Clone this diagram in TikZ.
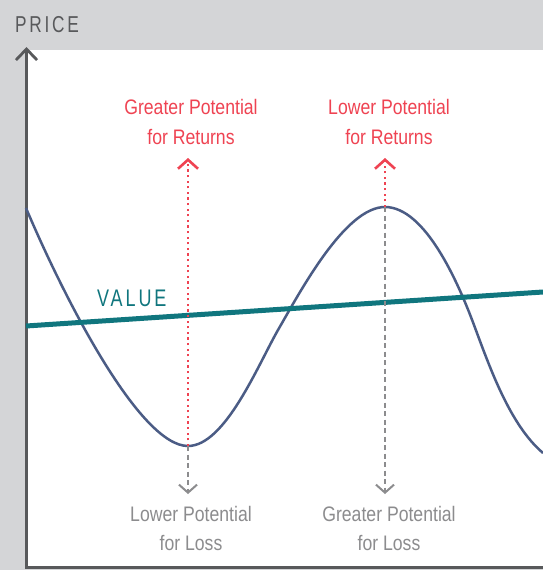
\documentclass[tikz,border=0pt]{standalone}
\usepackage{fontspec}
\setmainfont{Liberation Sans}[FakeStretch=0.84]
\newfontfamily\capsfont{Liberation Sans}[FakeStretch=0.75, LetterSpace=12]
\usetikzlibrary{arrows.meta}
\definecolor{bggray}{HTML}{D4D5D7}
\definecolor{axisgray}{HTML}{58595B}
\definecolor{pricecol}{HTML}{4B5C85}
\definecolor{valuecol}{HTML}{10767E}
\definecolor{redcol}{HTML}{EF4352}
\definecolor{lblgray}{HTML}{8C8C8E}
\tikzset{
  axisline/.style={draw=axisgray, line width=3pt,
    -{Straight Barb[length=11pt,width=21pt,line width=2.8pt]}},
  pricecurve/.style={draw=pricecol, line width=2.5pt},
  valueline/.style={draw=valuecol, line width=5pt},
  reddot/.style={draw=redcol, line width=2.4pt, dash pattern=on 2.2pt off 3.4pt,
    -{Straight Barb[length=9pt,width=20pt,line width=2.6pt]}},
  graydash/.style={draw=lblgray, line width=2pt, dash pattern=on 5pt off 3.5pt,
    -{Straight Barb[length=8pt,width=18pt,line width=2pt]}},
  redlbl/.style={text=redcol, anchor=base, inner sep=0pt, font=\fontsize{21}{25}\selectfont},
  graylbl/.style={text=lblgray, anchor=base, inner sep=0pt, font=\fontsize{21}{25}\selectfont},
}
\begin{document}
\begin{tikzpicture}[x=1pt,y=-1pt]
\useasboundingbox (0,0) rectangle (543,570);
\fill[bggray] (0,0) rectangle (543,570);
\fill[white] (26,50) rectangle (543,567);

% axes
\coordinate (xend) at (543,567.5);
\coordinate (origin) at (26.5,567.5);
\coordinate (ytip) at (26.5,47);
\draw[axisline] (xend) -- (origin) -- (ytip);
\node[anchor=base west, inner sep=0pt, text=axisgray] (pricelbl) at (15,32)
  {\fontsize{23}{27}\capsfont PRICE};

% key points
\coordinate (start) at (26,208);
\coordinate (minpt) at (188,446);
\coordinate (rise) at (278,330);
\coordinate (peakpt) at (385,207);
\coordinate (fall) at (474,325);
\coordinate (finish) at (543,453);

% price curve
\draw[pricecurve] (start)
  .. controls (65,300) and (140,446) .. (minpt)
  .. controls (225,446) and (258,365) .. (rise)
  .. controls (300,292) and (345,207) .. (peakpt)
  .. controls (425,207) and (458,282) .. (fall)
  .. controls (490,368) and (510,425) .. (finish);

% value line
\coordinate (v0) at (26,326);
\coordinate (v1) at (543,292);
\draw[valueline] (v0) -- (v1);
\node[anchor=base west, inner sep=0pt, text=valuecol] (valuelbl) at (97,306)
  {\fontsize{24}{28}\capsfont VALUE};

% arrow tips
\coordinate (rtipA) at (188,158);
\coordinate (rtipB) at (385,158);
\coordinate (gtipA) at (188,494);
\coordinate (gtipB) at (385,494);

\draw[reddot] (minpt) -- (rtipA);
\draw[reddot] (peakpt) -- (rtipB);
\draw[graydash] (minpt) -- (gtipA);
\draw[graydash] (peakpt) -- (gtipB);

% labels
\node[redlbl] (ta1) at (191,114) {Greater Potential};
\node[redlbl] (ta2) at (191,144) {for Returns};
\node[redlbl] (tb1) at (389,114) {Lower Potential};
\node[redlbl] (tb2) at (389,144) {for Returns};
\node[graylbl] (ba1) at (191,521) {Lower Potential};
\node[graylbl] (ba2) at (191,550) {for Loss};
\node[graylbl] (bb1) at (389,521) {Greater Potential};
\node[graylbl] (bb2) at (389,550) {for Loss};
\end{tikzpicture}
\end{document}
